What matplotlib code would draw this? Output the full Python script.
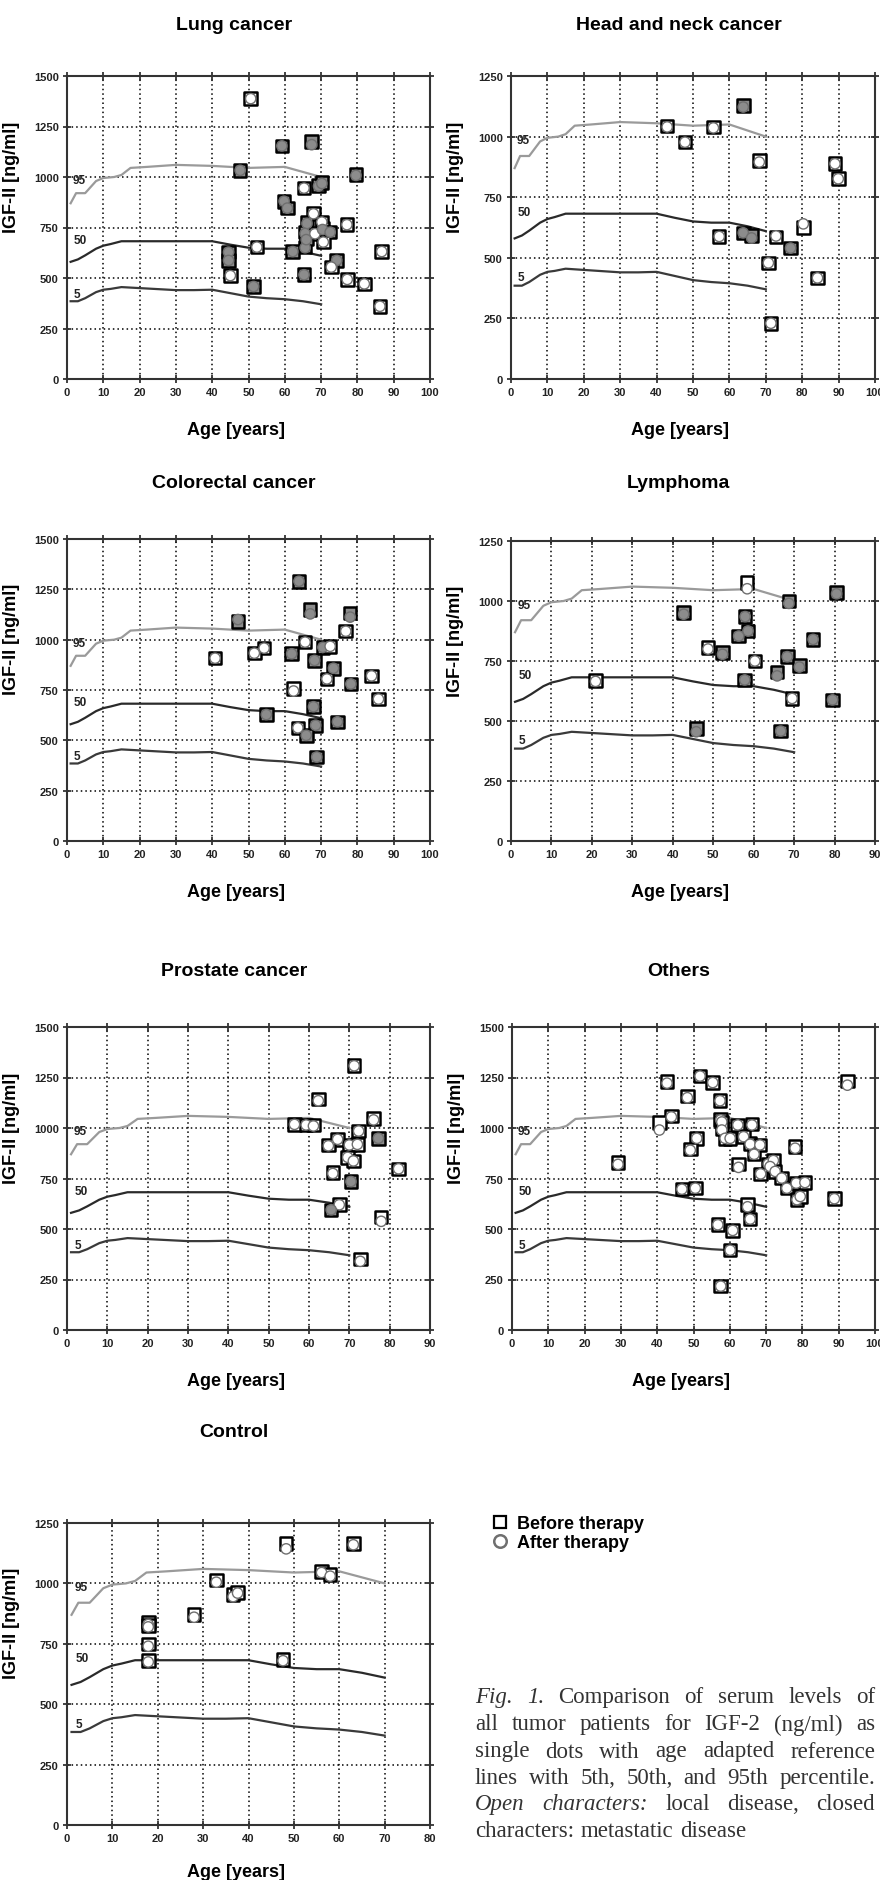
import numpy as np
import matplotlib
matplotlib.use('Agg')
import matplotlib.pyplot as plt
from matplotlib.lines import Line2D

plt.rcParams['font.family'] = ['Liberation Sans', 'DejaVu Sans']
plt.rcParams['font.weight'] = 'bold'
plt.rcParams['axes.labelweight'] = 'bold'

W, H = 880, 1881

# age adapted reference percentiles (same curves in every panel)
p95_age = [1, 2.5, 5, 6.5, 8, 10, 13, 15, 17.5, 22, 30, 40, 50, 60, 70]
p95_val = [870, 920, 920, 950, 980, 995, 1000, 1010, 1045, 1050, 1060, 1055, 1045, 1050, 1000]
p50_age = [1, 3, 5, 8, 10, 12, 15, 40, 45, 50, 55, 60, 65, 70]
p50_val = [580, 592, 612, 645, 660, 668, 682, 682, 665, 650, 645, 645, 630, 610]
p5_age = [1, 3, 5, 8, 10, 12, 15, 20, 25, 30, 35, 40, 45, 50, 55, 60, 65, 70]
p5_val = [385, 385, 400, 430, 442, 446, 455, 450, 445, 440, 440, 442, 425, 408, 400, 395, 385, 370]

# Lung cancer
lung_age = [50.6, 59.2, 67.4, 47.7, 79.6, 65.3, 69.3, 70.2, 59.8, 60.7, 67.9, 70.2, 66.1, 77.1, 65.6, 68.3, 70.4,
            72.5, 70.6, 65.6, 65.9, 62.2, 52.3, 44.5, 44.5, 45.0, 51.4, 65.3, 74.3, 72.8, 86.7, 77.2, 81.9, 86.2]
lung_before = [1388, 1154, 1175, 1033, 1012, 945, 959, 972, 880, 846, 818, 777, 774, 764, 727, 719, 744,
               727, 678, 653, 694, 631, 653, 628, 587, 512, 458, 516, 587, 554, 631, 493, 471, 360]
lung_after = [1388, 1154, 1160, 1033, 1008, 945, 955, 968, 880, 846, 818, 777, 770, 764, 720, 719, 740,
              727, 678, 650, 690, 631, 653, 628, 587, 512, 458, 516, 587, 554, 631, 493, 471, 360]
lung_closed = [0, 1, 1, 1, 1, 0, 1, 1, 1, 1, 0, 0, 1, 0, 1, 0, 1, 1, 0, 1, 1, 1, 0, 1, 1, 0, 1, 1, 1, 0, 0, 0, 0, 0]

# Head and neck cancer
hn_age = [63.8, 42.9, 55.6, 47.8, 68.2, 89.0, 89.9, 57.2, 63.8, 66.1, 72.8, 76.8, 80.3, 70.7, 84.2, 71.4]
hn_before = [1129, 1043, 1039, 977, 902, 888, 826, 588, 603, 592, 585, 540, 626, 479, 417, 230]
hn_after = [1122, 1040, 1036, 977, 895, 888, 826, 588, 603, 582, 590, 540, 640, 479, 417, 230]
hn_closed = [1, 0, 0, 0, 0, 0, 0, 0, 1, 1, 0, 1, 0, 0, 0, 0]

# Colorectal cancer
cr_age = [63.9, 67.0, 78.0, 47.1, 76.8, 65.6, 70.5, 72.5, 54.3, 51.6, 40.8, 61.9, 68.2, 73.4, 71.6, 83.9, 78.2,
          62.4, 85.8, 67.9, 54.9, 68.5, 63.6, 65.9, 74.5, 68.8]
cr_before = [1290, 1150, 1133, 1090, 1042, 988, 962, 967, 958, 933, 908, 930, 897, 858, 805, 820, 780,
             758, 705, 667, 628, 575, 562, 525, 592, 417]
cr_after = [1290, 1128, 1112, 1100, 1042, 988, 962, 967, 958, 933, 908, 930, 897, 858, 805, 820, 780,
            745, 705, 667, 628, 575, 562, 525, 592, 417]
cr_closed = [1, 1, 1, 1, 0, 0, 1, 0, 0, 0, 0, 1, 1, 1, 0, 0, 1, 0, 0, 1, 1, 1, 0, 1, 1, 1]

# Lymphoma
ly_age = [58.4, 80.5, 68.7, 42.7, 57.9, 58.6, 56.3, 74.7, 48.7, 52.3, 60.3, 68.3, 71.3, 65.8, 57.8, 20.9, 69.5,
          79.5, 45.8, 66.7]
ly_before = [1076, 1035, 1000, 951, 935, 875, 854, 840, 806, 785, 750, 768, 732, 704, 671, 669, 594, 588, 469, 458]
ly_after = [1051, 1030, 990, 945, 935, 875, 854, 840, 800, 778, 750, 768, 725, 688, 671, 665, 594, 588, 455, 458]
ly_closed = [0, 1, 1, 1, 1, 1, 1, 1, 0, 1, 0, 1, 1, 1, 1, 0, 0, 1, 1, 1]

# Prostate cancer
pr_age = [71.2, 62.3, 56.4, 59.3, 61.1, 76.0, 72.3, 77.2, 67.1, 64.8, 70.0, 72.0, 69.6, 71.0, 65.9, 82.2, 70.4,
          67.5, 65.5, 77.9, 72.7]
pr_before = [1308, 1143, 1018, 1015, 1015, 1048, 985, 949, 944, 916, 916, 919, 855, 837, 781, 798, 735,
             620, 595, 559, 352]
pr_after = [1308, 1135, 1018, 1015, 1010, 1040, 985, 949, 944, 912, 916, 919, 855, 837, 775, 798, 735,
            620, 595, 538, 340]
pr_closed = [0, 0, 0, 0, 0, 0, 0, 1, 0, 0, 0, 0, 0, 0, 0, 0, 1, 0, 1, 0, 0]

# Others
ot_age = [51.8, 42.7, 55.3, 92.4, 48.3, 57.3, 43.9, 40.6, 57.5, 57.8, 66.1, 62.2, 57.8, 50.9, 58.7, 60.1,
          63.8, 65.6, 68.3, 49.1, 78.0, 66.7, 29.2, 62.4, 70.6, 72.0, 71.1, 72.5, 68.5, 74.3, 75.7, 78.3,
          80.7, 78.5, 79.4, 46.8, 50.5, 88.8, 64.9, 65.6, 56.7, 60.8, 60.1, 57.5]
ot_before = [1257, 1229, 1225, 1232, 1158, 1135, 1059, 1026, 1043, 1030, 1020, 1015, 998, 949, 949, 949,
             957, 924, 916, 895, 908, 875, 829, 822, 822, 839, 809, 785, 773, 752, 702, 727,
             730, 645, 661, 697, 702, 650, 620, 549, 521, 493, 395, 217]
ot_after = [1257, 1222, 1225, 1212, 1150, 1135, 1055, 990, 1040, 1030, 1015, 1015, 990, 949, 949, 949,
            957, 920, 916, 890, 900, 870, 820, 805, 822, 839, 809, 785, 773, 752, 702, 727,
            730, 645, 661, 697, 702, 650, 610, 549, 521, 493, 395, 217]
ot_closed = [0] * len(ot_age)

# Control
ct_age = [48.3, 63.1, 32.9, 56.1, 58.0, 36.6, 37.6, 28.0, 17.9, 17.9, 17.9, 17.9, 47.6]
ct_before = [1164, 1164, 1014, 1050, 1036, 953, 963, 871, 840, 825, 750, 682, 685]
ct_after = [1143, 1160, 1005, 1045, 1030, 945, 960, 860, 830, 820, 740, 675, 680]
ct_closed = [0] * len(ct_age)

fig = plt.figure(figsize=(W / 100, H / 100), dpi=100)


def panel(box, age, before, after, closed, xmax, ymax, title, title_y, xlab_y=-0.14):
    l, t, r, b = box
    ax = fig.add_axes([l / W, 1 - b / H, (r - l) / W, (b - t) / H])
    ax.set_xlim(0, xmax)
    ax.set_ylim(0, ymax)
    ax.set_xticks(np.arange(0, xmax + 1, 10))
    ax.set_yticks(np.arange(0, ymax + 1, 250))
    ax.grid(True, color='black', linestyle=(0, (1, 2)), linewidth=1.1)
    ax.tick_params(direction='inout', length=6, width=1.2, top=True, right=True,
                   labelsize=8, pad=3, colors='#222')
    for lab in ax.get_xticklabels() + ax.get_yticklabels():
        lab.set_fontweight('bold')
    for s in ax.spines.values():
        s.set_color('#333')
        s.set_linewidth(1.5)

    ax.plot(p95_age, p95_val, color='#9a9a9a', lw=1.6, zorder=2)
    ax.plot(p50_age, p50_val, color='#2a2a2a', lw=1.6, zorder=2)
    ax.plot(p5_age, p5_val, color='#3a3a3a', lw=1.6, zorder=2)
    ax.text(1.6, 985, '95', fontsize=8.5, va='center', color='#222')
    ax.text(1.8, 690, '50', fontsize=8.5, va='center', color='#222')
    ax.text(1.8, 420, '5', fontsize=8.5, va='center', color='#222')

    face = ['#8c8c8c' if c else 'white' for c in closed]
    ax.scatter(age, before, marker='s', s=82, facecolors=face, edgecolors='black',
               linewidths=1.8, zorder=3, clip_on=False)
    ax.scatter(age, after, marker='o', s=55, facecolors=face, edgecolors='#6f6f6f',
               linewidths=1.0, zorder=4, clip_on=False)

    ax.set_ylabel('IGF-II [ng/ml]', fontsize=13, fontweight='bold')
    ax.yaxis.set_label_coords(-0.13, 0.67)
    ax.set_xlabel('Age [years]', fontsize=13, fontweight='bold')
    ax.xaxis.set_label_coords(0.465, xlab_y)
    fig.text((l + 0.46 * (r - l)) / W, 1 - title_y / H, title, fontsize=14,
             fontweight='bold', ha='center', va='center')
    return ax


panel((67, 77, 430, 380), lung_age, lung_before, lung_after, lung_closed, 100, 1500, 'Lung cancer', 25)
panel((511, 77, 875, 380), hn_age, hn_before, hn_after, hn_closed, 100, 1250, 'Head and neck cancer', 25)
panel((67, 540, 430, 842), cr_age, cr_before, cr_after, cr_closed, 100, 1500, 'Colorectal cancer', 484)
panel((511, 542, 875, 842), ly_age, ly_before, ly_after, ly_closed, 90, 1250, 'Lymphoma', 484)
panel((67, 1028, 430, 1331), pr_age, pr_before, pr_after, pr_closed, 90, 1500, 'Prostate cancer', 972)
panel((512, 1028, 875, 1331), ot_age, ot_before, ot_after, ot_closed, 100, 1500, 'Others', 972)
panel((67, 1524, 430, 1826), ct_age, ct_before, ct_after, ct_closed, 80, 1250, 'Control', 1433, xlab_y=-0.125)

handles = [Line2D([], [], marker='s', ls='none', ms=9, mfc='white', mec='black', mew=1.6),
           Line2D([], [], marker='o', ls='none', ms=9, mfc='white', mec='#6f6f6f', mew=1.8)]
fig.legend(handles, ['Before therapy', 'After therapy'], loc='upper left',
           bbox_to_anchor=(482 / W, 1 - 1507 / H), frameon=False, fontsize=13,
           handlelength=1.0, handletextpad=0.45, labelspacing=0.1, borderpad=0)

# caption, justified between x=475 and x=875
caption = [
    [('Fig.', 'italic'), ('1.', 'italic'), ('Comparison', 'normal'), ('of', 'normal'), ('serum', 'normal'),
     ('levels', 'normal'), ('of', 'normal')],
    [(w, 'normal') for w in 'all tumor patients for IGF-2 (ng/ml) as'.split()],
    [(w, 'normal') for w in 'single dots with age adapted reference'.split()],
    [(w, 'normal') for w in 'lines with 5th, 50th, and 95th percentile.'.split()],
    [('Open', 'italic'), ('characters:', 'italic'), ('local', 'normal'), ('disease,', 'normal'),
     ('closed', 'normal')],
    [(w, 'normal') for w in 'characters: metastatic disease'.split()],
]
cap_y = [1698, 1725, 1752, 1779, 1805, 1832]
x0, x1 = 475, 875
renderer = fig.canvas.get_renderer()
for i, line in enumerate(caption):
    texts = [fig.text(0, 1 - cap_y[i] / H, w, family='Liberation Serif', fontsize=16.5,
                      fontweight='normal', style=st, color='#333', va='center')
             for w, st in line]
    widths = [t.get_window_extent(renderer).width for t in texts]
    if i == len(caption) - 1:
        gap = 6.5
    else:
        gap = (x1 - x0 - sum(widths)) / (len(texts) - 1)
    x = x0
    for t, wd in zip(texts, widths):
        t.set_x(x / W)
        x += wd + gap

fig.savefig('out.png', dpi=100)
